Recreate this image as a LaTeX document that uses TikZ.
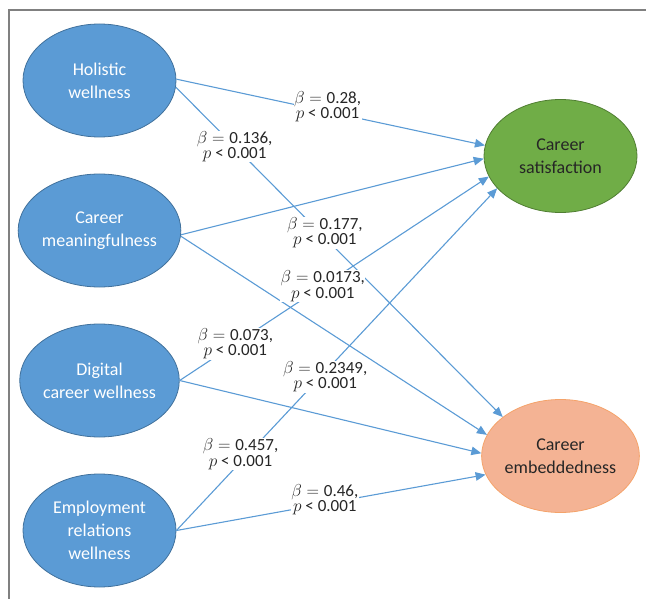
\documentclass[tikz,border=0pt]{standalone}
\usepackage{fontspec}
\setmainfont{Carlito}
\usepackage{amsmath}
\usepackage{xcolor}
\usetikzlibrary{shapes,arrows.meta,positioning}

\definecolor{wellblue}{HTML}{5B9BD5}
\definecolor{wellblueline}{HTML}{41719C}
\definecolor{satgreen}{HTML}{70AD47}
\definecolor{satgreenline}{HTML}{507E32}
\definecolor{embsalmon}{HTML}{F4B394}
\definecolor{embsalmonline}{HTML}{F4A36A}
\definecolor{darktext}{HTML}{262626}

\begin{document}
\begin{tikzpicture}[x=1pt, y=-1pt,
    factor/.style={ellipse, draw=wellblueline, fill=wellblue, line width=0.8pt,
        minimum width=153pt, minimum height=113pt, inner sep=0pt, align=center,
        text=white, font=\fontsize{18}{22.7}\selectfont},
    outcome/.style={factor, text=darktext},
    link/.style={draw=wellblue, line width=1.1pt, -{Triangle[length=10pt,width=8.5pt]}},
    coef/.style={fill=white, inner sep=0.5pt, align=center, text=darktext,
        font=\fontsize{17}{15.5}\selectfont}]
    \useasboundingbox (0,0) rectangle (646,599);
    \draw[gray, line width=1.2pt] (9,599) -- (9,10) -- (646,10);

    \node[factor] (hw) at (99.5,80.5) {Holistic\\wellness};
    \node[factor] (cm) at (99.5,230.5) {Career\\meaningfulness};
    \node[factor] (dcw) at (99.5,380.5) {Digital\\career wellness};
    \node[factor] (erw) at (99.5,530.5) {Employment\\relations\\wellness};
    \node[outcome, fill=satgreen, draw=satgreenline] (cs) at (560.5,156) {Career\\satisfaction};
    \node[outcome, fill=embsalmon, draw=embsalmonline] (ce) at (560.5,456) {Career\\embeddedness};

    \draw[link] (cm.-3) -- (cs.182);
    \draw[link] (cm.-4) -- (ce.164);
    \draw[link] (dcw.east) -- (ce.178);
    \draw[link] (hw.1) -- node[coef, pos=.49, yshift=5pt] {$\beta = {}$0.28,\\$p$ < 0.001} (cs.172);
    \draw[link] (erw.east) -- node[coef, pos=.48, yshift=4pt] {$\beta = {}$0.46,\\$p$ < 0.001} (ce.194);
    \draw[link] (hw.-5) -- node[coef, pos=.18] {$\beta = {}$0.136,\\$p$ < 0.001}
        node[coef, pos=.456, yshift=5pt] {$\beta = {}$0.177,\\$p$ < 0.001} (ce.146);
    \draw[link] (dcw.east) -- node[coef, pos=.18] {$\beta = {}$0.073,\\$p$ < 0.001}
        node[coef, pos=.463] {$\beta = {}$0.0173,\\$p$ < 0.001} (cs.196);
    \draw[link] (erw.east) -- node[coef, pos=.2, yshift=8pt] {$\beta = {}$0.457,\\$p$ < 0.001}
        node[coef, pos=.464, yshift=-5pt] {$\beta = {}$0.2349,\\$p$ < 0.001} (cs.207);
\end{tikzpicture}
\end{document}
